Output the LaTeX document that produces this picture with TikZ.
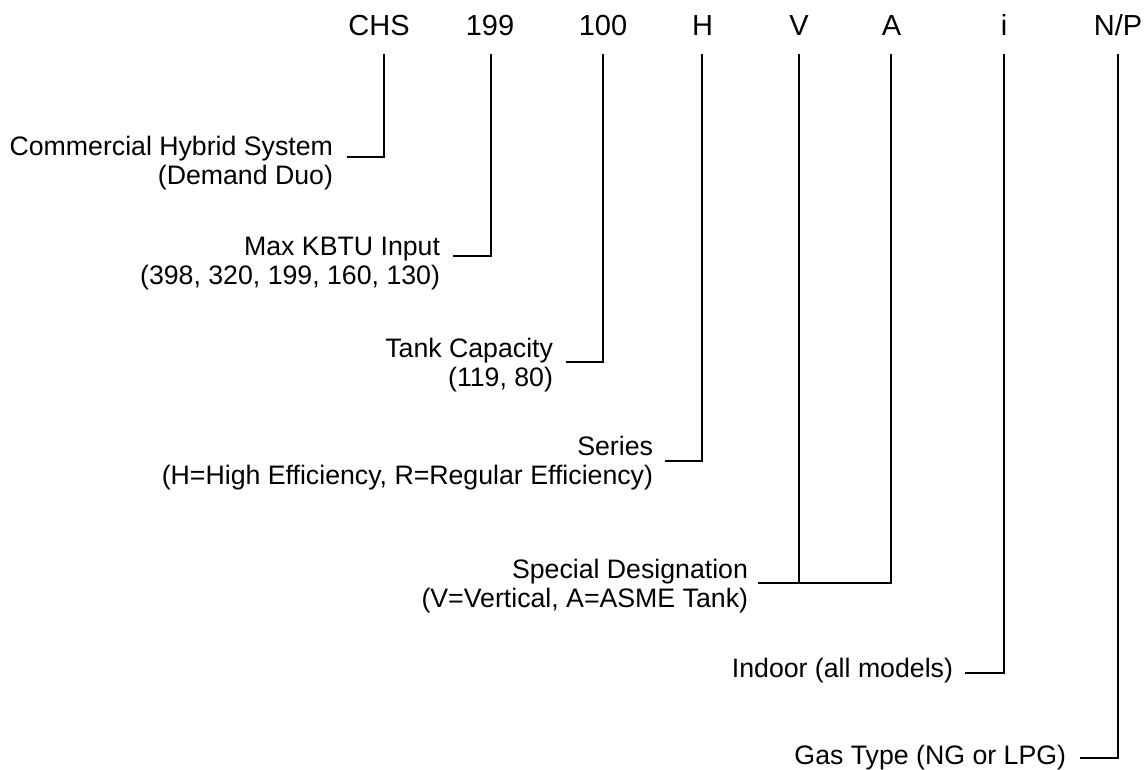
\documentclass[tikz,border=0pt]{standalone}
\usepackage{fontspec}
\setmainfont{Liberation Sans}
\begin{document}
\begin{tikzpicture}[x=1pt,y=-1pt,line width=1.1pt,
  code/.style={anchor=base,inner sep=0pt,outer sep=0pt,font=\fontsize{29}{32}\selectfont},
  lbl/.style={anchor=base east,inner sep=0pt,outer sep=0pt,font=\fontsize{26.7}{29.5}\selectfont},
  conn/.style={draw=black,line width=1.1pt}]
\useasboundingbox (0,0) rectangle (1145,769);
% code letters
\node[code] (chs) at (379,35) {CHS};
\node[code] (n199) at (490,35) {199};
\node[code] (n100) at (603,35) {100};
\node[code] (h) at (702.5,35) {H};
\node[code] (v) at (799,35) {V};
\node[code] (a) at (891.5,35) {A};
\node[code] (i) at (1004,35) {i};
\node[code] (np) at (1118,35) {N/P};
% tops of connectors
\coordinate (t1) at (384,54);
\coordinate (t2) at (491,54);
\coordinate (t3) at (603,54);
\coordinate (t4) at (702,54);
\coordinate (t5) at (799,54);
\coordinate (t6) at (891,54);
\coordinate (t7) at (1004,54);
\coordinate (t8) at (1118,54);
% labels
\node[lbl] (l1) at (333,155) {\begin{tabular}[t]{@{}r@{}}Commercial Hybrid System\\(Demand Duo)\end{tabular}};
\node[lbl] (l2) at (440,255) {\begin{tabular}[t]{@{}r@{}}Max KBTU Input\\(398, 320, 199, 160, 130)\end{tabular}};
\node[lbl] (l3) at (553,357) {\begin{tabular}[t]{@{}r@{}}Tank Capacity\\(119, 80)\end{tabular}};
\node[lbl] (l4) at (653,455) {\begin{tabular}[t]{@{}r@{}}Series\\(H=High Efficiency, R=Regular Efficiency)\end{tabular}};
\node[lbl] (l5) at (748,578) {\begin{tabular}[t]{@{}r@{}}Special Designation\\(V=Vertical, A=ASME Tank)\end{tabular}};
\node[lbl] (l6) at (953,677) {Indoor (all models)};
\node[lbl] (l7) at (1066,764) {Gas Type (NG or LPG)};
% connector joints
\coordinate (j1) at ([xshift=14pt,yshift=-2pt]l1.base east);
\coordinate (j2) at ([xshift=13pt,yshift=-1pt]l2.base east);
\coordinate (j3) at ([xshift=13pt,yshift=-5pt]l3.base east);
\coordinate (j4) at ([xshift=12pt,yshift=-6pt]l4.base east);
\coordinate (j5) at ([xshift=10pt,yshift=-5pt]l5.base east);
\coordinate (j6) at ([xshift=12pt,yshift=4pt]l6.base east);
\coordinate (j7) at ([xshift=14pt,yshift=6pt]l7.base east);
% connectors
\draw[conn] (t1) |- (j1);
\draw[conn] (t2) |- (j2);
\draw[conn] (t3) |- (j3);
\draw[conn] (t4) |- (j4);
\draw[conn] (t5) |- (j5);
\draw[conn] (t6) |- (j5);
\draw[conn] (t7) |- (j6);
\draw[conn] (t8) |- (j7);
\end{tikzpicture}
\end{document}
